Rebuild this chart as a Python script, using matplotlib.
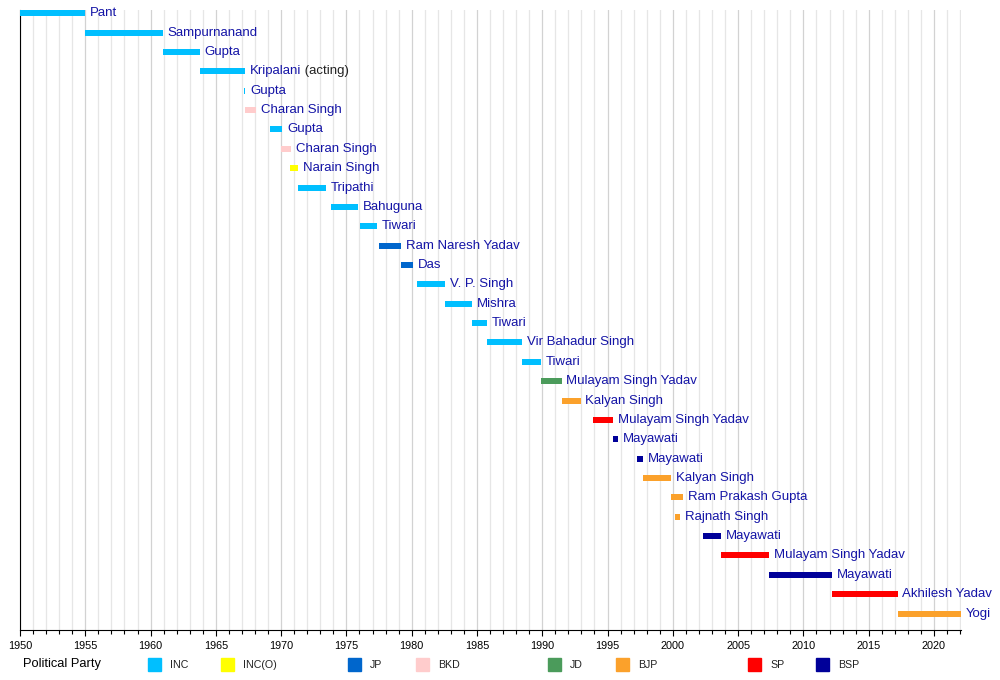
import matplotlib
matplotlib.use('Agg')
import matplotlib.pyplot as plt
from matplotlib.ticker import MultipleLocator
from matplotlib.patches import Rectangle

plt.rcParams['font.family'] = ['Liberation Sans', 'DejaVu Sans']

# chief ministers, in order (start / end as decimal years)
names = ['Pant', 'Sampurnanand', 'Gupta', 'Kripalani', 'Gupta', 'Charan Singh',
         'Gupta', 'Charan Singh', 'Narain Singh', 'Tripathi', 'Bahuguna', 'Tiwari',
         'Ram Naresh Yadav', 'Das', 'V. P. Singh', 'Mishra', 'Tiwari',
         'Vir Bahadur Singh', 'Tiwari', 'Mulayam Singh Yadav', 'Kalyan Singh',
         'Mulayam Singh Yadav', 'Mayawati', 'Mayawati', 'Kalyan Singh',
         'Ram Prakash Gupta', 'Rajnath Singh', 'Mayawati', 'Mulayam Singh Yadav',
         'Mayawati', 'Akhilesh Yadav', 'Yogi']
notes = [''] * len(names)
notes[3] = ' (acting)'
starts = [1950.0, 1954.95, 1960.93, 1963.75, 1967.15, 1967.22, 1969.12, 1970.02,
          1970.7, 1971.26, 1973.85, 1976.06, 1977.48, 1979.16, 1980.44, 1982.55,
          1984.59, 1985.73, 1988.48, 1989.93, 1991.48, 1993.92, 1995.42, 1997.22,
          1997.72, 1999.86, 2000.15, 2002.33, 2003.66, 2007.36, 2012.2, 2017.21]
ends = [1954.95, 1960.93, 1963.75, 1967.2, 1967.26, 1968.1, 1970.1, 1970.78,
        1971.29, 1973.45, 1975.91, 1977.33, 1979.16, 1980.13, 1982.55, 1984.59,
        1985.73, 1988.48, 1989.93, 1991.48, 1992.93, 1995.42, 1995.79, 1997.72,
        1999.86, 2000.8, 2000.55, 2003.66, 2007.36, 2012.2, 2017.21, 2022.07]
parties = ['INC', 'INC', 'INC', 'INC', 'INC', 'BKD', 'INC', 'BKD', 'INC(O)', 'INC',
           'INC', 'INC', 'JP', 'JP', 'INC', 'INC', 'INC', 'INC', 'INC', 'JD', 'BJP',
           'SP', 'BSP', 'BSP', 'BJP', 'BJP', 'BJP', 'BSP', 'SP', 'BSP', 'SP', 'BJP']

party_list = ['INC', 'INC(O)', 'JP', 'BKD', 'JD', 'BJP', 'SP', 'BSP']
party_colors = {
    'INC': '#00BFFF',
    'INC(O)': '#FFFF00',
    'JP': '#0066CC',
    'BKD': '#FFCCCC',
    'JD': '#4B9B5B',
    'BJP': '#FBA12B',
    'SP': '#FF0000',
    'BSP': '#000099',
}

fig = plt.figure(figsize=(10, 6.8), dpi=100)
ax = fig.add_axes([0.02, 0.0735, 0.941, 0.9115])

rows = list(range(len(names)))
widths = [e - s for s, e in zip(starts, ends)]
colors = [party_colors[p] for p in parties]
ax.barh(rows, widths, left=starts, height=0.31, color=colors, zorder=3)

for i in rows:
    t = ax.annotate(names[i], xy=(ends[i], i), xytext=(3.5, 0), textcoords='offset points',
                    va='center', ha='left', fontsize=9.5, color='#1414a6', zorder=4)
    if notes[i]:
        ax.annotate(notes[i], xy=(1, 0), xycoords=t, va='bottom', ha='left',
                    fontsize=9.5, color='#222222')

ax.set_xlim(1950, 2022.07)
ax.set_ylim(31.85, -0.16)
ax.xaxis.set_major_locator(MultipleLocator(5))
ax.xaxis.set_minor_locator(MultipleLocator(1))
ax.set_yticks([])
ax.grid(which='minor', axis='x', color='#e6e6e6', lw=0.9, zorder=0)
ax.grid(which='major', axis='x', color='#d2d2d2', lw=0.9, zorder=0)
ax.tick_params(axis='x', which='major', length=4, width=0.8, labelsize=7.8, pad=4)
ax.tick_params(axis='x', which='minor', length=3, width=0.8)
for side in ['top', 'right']:
    ax.spines[side].set_visible(False)
ax.spines['left'].set_color('black')
ax.spines['bottom'].set_color('black')

# legend along the bottom
fig.text(0.023, 1 - 664 / 680, 'Political Party', fontsize=9.3, va='center', ha='left')
swatch_x = [148, 221, 348, 416, 548, 616, 748, 816]
for p, sx in zip(party_list, swatch_x):
    fig.patches.append(Rectangle((sx / 1000, (680 - 671) / 680), 13 / 1000, 13 / 680,
                                 transform=fig.transFigure, color=party_colors[p]))
    fig.text((sx + 22) / 1000, 1 - 665 / 680, p, fontsize=7.7, va='center', ha='left',
             color='#222222')

fig.savefig('out.png', dpi=100)
